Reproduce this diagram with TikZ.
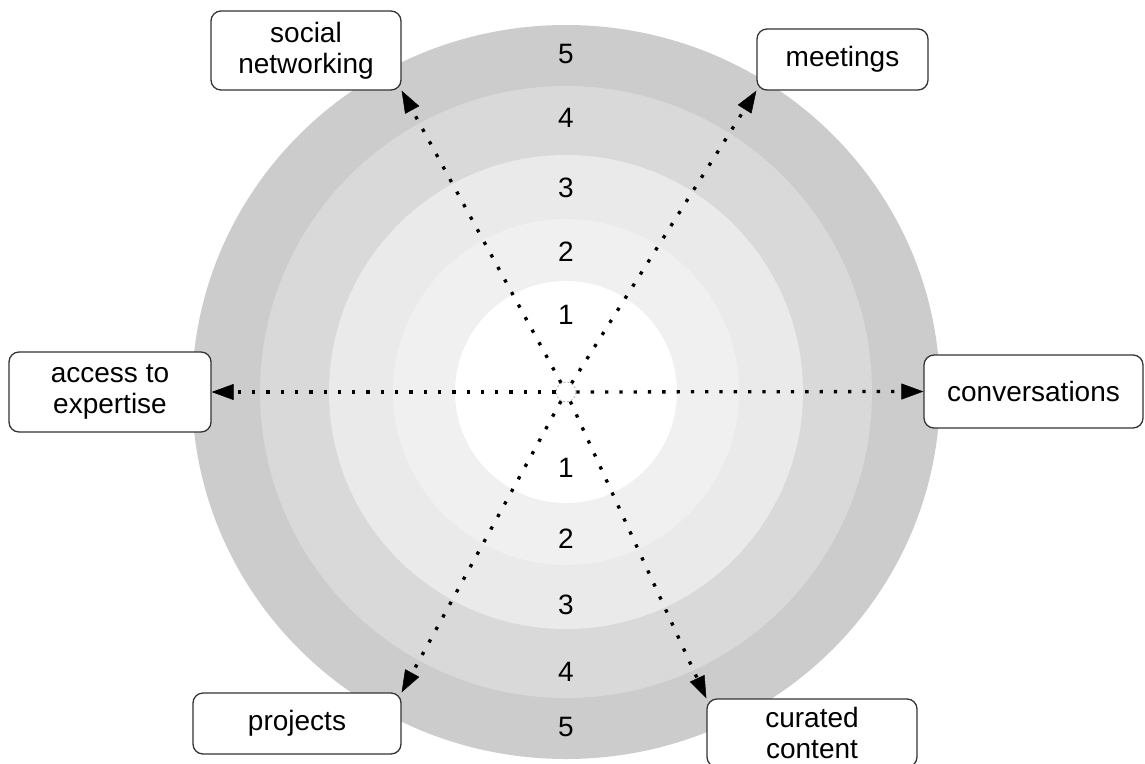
\documentclass[tikz,border=0pt]{standalone}
\usepackage{fontspec}
\setmainfont{Liberation Sans}
\usetikzlibrary{arrows.meta}
\definecolor{ringfive}{HTML}{CCCCCC}
\definecolor{ringfour}{HTML}{D9D9D9}
\definecolor{ringthree}{HTML}{EAEAEA}
\definecolor{ringtwo}{HTML}{F0F0F0}
\definecolor{boxline}{HTML}{333333}
\begin{document}
\begin{tikzpicture}[x=1pt,y=-1pt,
  labelbox/.style={draw=boxline, line width=1.3pt, rounded corners=10pt, fill=white,
    align=center, inner sep=0pt, font=\fontsize{28}{31}\selectfont},
  level/.style={inner sep=0pt, font=\fontsize{28}{31}\selectfont},
  spoke/.style={line width=3.3pt, dash pattern=on 3.3pt off 11pt,
    -{Triangle[length=22pt,width=16pt,line width=0.5pt]}}]
\useasboundingbox (0,0) rectangle (1145,763);

% concentric levels
\fill[ringfive]  (566,392) ellipse [x radius=374pt, y radius=367pt];
\fill[ringfour]  (566,392) circle [radius=306pt];
\fill[ringthree] (566,392) circle [radius=237pt];
\fill[ringtwo]   (566,392) circle [radius=173pt];
\fill[white]     (566,392) circle [radius=111pt];

% level numbers, upper half
\node[level] (u5) at (566,54)  {5};
\node[level] (u4) at (566,118) {4};
\node[level] (u3) at (566,188) {3};
\node[level] (u2) at (566,252) {2};
\node[level] (u1) at (566,315) {1};
% level numbers, lower half
\node[level] (d1) at (566,468) {1};
\node[level] (d2) at (566,539) {2};
\node[level] (d3) at (566,605) {3};
\node[level] (d4) at (566,672) {4};
\node[level] (d5) at (566,727) {5};

% hub
\node[circle, minimum size=20pt, inner sep=0pt, draw=gray!60, line width=0.8pt,
      dash pattern=on 2pt off 2pt] (hub) at (566,392) {};

% channels
\node[labelbox, minimum width=190pt, minimum height=79pt] (sn) at (306,50.5) {social\\networking};
\node[labelbox, minimum width=171pt, minimum height=61pt] (mt) at (842.5,59.5) {meetings};
\node[labelbox, minimum width=202pt, minimum height=80pt] (ax) at (110,392) {access to\\expertise};
\node[labelbox, minimum width=219pt, minimum height=73pt] (cv) at (1033.5,391.5) {conversations};
\node[labelbox, minimum width=208pt, minimum height=61pt] (pj) at (297,723.5) {projects};
\node[labelbox, minimum width=210pt, minimum height=68pt] (cc) at (812,733) {curated\\content};

% spokes
\draw[spoke] (hub) -- (sn.south east);
\draw[spoke] (hub) -- (mt.south west);
\draw[spoke] (hub) -- (ax.east);
\draw[spoke] (hub) -- (cv.west);
\draw[spoke] (hub) -- (pj.north east);
\draw[spoke] (hub) -- (cc.north west);
\end{tikzpicture}
\end{document}
